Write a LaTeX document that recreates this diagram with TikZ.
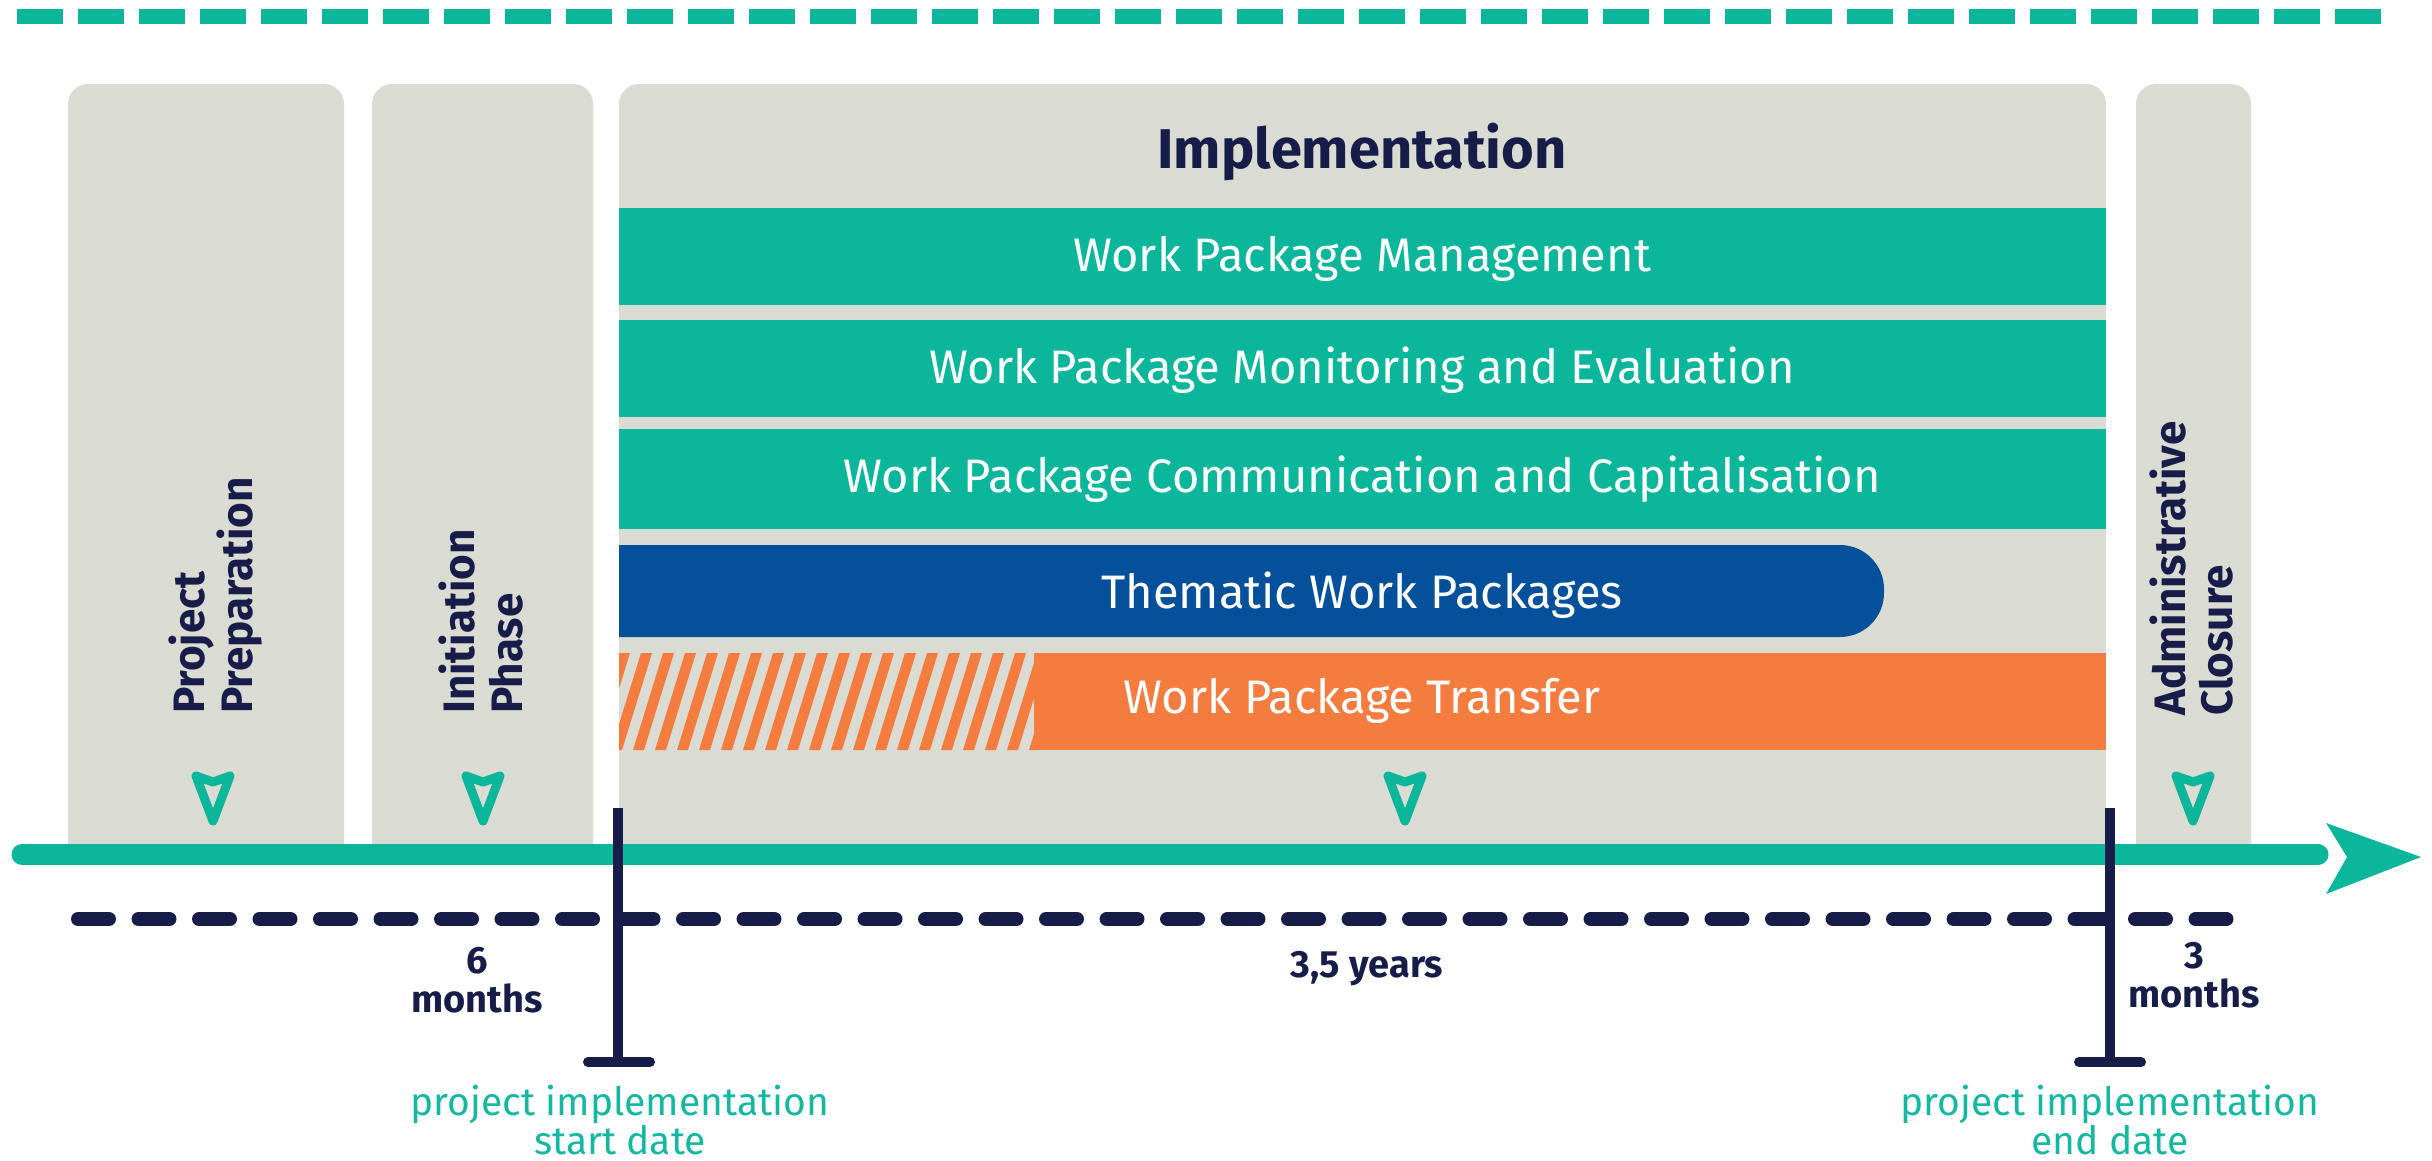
\documentclass[tikz,border=0pt]{standalone}
\usepackage{fontspec}
\setmainfont{Fira Sans}
\definecolor{cTeal}{HTML}{0BB69B}
\definecolor{cTealText}{HTML}{14B8A0}
\definecolor{cGray}{HTML}{DADBD3}
\definecolor{cNavy}{HTML}{171D48}
\definecolor{cBlue}{HTML}{05509A}
\definecolor{cOrange}{HTML}{F47C3F}
\tikzset{
  phasebox/.style={fill=cGray, rounded corners=20pt},
  bartext/.style={text=white, font=\fontsize{47}{58}\selectfont, inner sep=0pt, anchor=base},
  titletext/.style={text=cNavy, font=\fontsize{56}{64}\selectfont\bfseries, inner sep=0pt, anchor=base},
  vlabel/.style={text=cNavy, font=\fontsize{44}{50}\selectfont\bfseries, inner sep=0pt, anchor=base west, rotate=90},
  durlabel/.style={text=cNavy, font=\fontsize{38}{39}\selectfont\bfseries, inner sep=0pt, align=center, anchor=base},
  datelabel/.style={text=cTealText, font=\fontsize{39}{34}\selectfont, inner sep=0pt, align=center, anchor=base},
  marker/.style={draw=cNavy, line width=10pt},
  icon/.style={draw=cTeal, line width=9pt, line join=round}
}
\begin{document}
\begin{tikzpicture}[x=1pt,y=-1pt]
\useasboundingbox (0,0) rectangle (2432,1160);
% top dashed line
\draw[cTeal, line width=15pt, dash pattern=on 46pt off 15pt] (17,16) -- (2382,16);
% phase boxes
\path[phasebox] (68,850) |- (206,84) -| (344,850);
\path[phasebox] (372,850) |- (482,84) -| (593,850);
\path[phasebox] (619,850) |- (1362,84) -| (2106,850);
\path[phasebox] (2136,850) |- (2193,84) -| (2251,850);
% work package bars
\fill[cTeal] (619,208) rectangle (2106,305);
\fill[cTeal] (619,320) rectangle (2106,417);
\fill[cTeal] (619,429) rectangle (2106,529);
\fill[cBlue, rounded corners=44pt] (619,545) -- (1884,545) -- (1884,637) -- (619,637);
\fill[cBlue] (619,545) rectangle (660,637);
\fill[cOrange] (1034,653) rectangle (2106,750);
\begin{scope}
  \clip (619,653) rectangle (1034,750);
  \foreach \i in {0,...,21}
    \fill[cOrange] (589+22*\i,750) -- ++(11,0) -- ++(30,-97) -- ++(-11,0) -- cycle;
\end{scope}
% texts in implementation
\node[titletext] (impl) at (1362,168) {Implementation};
\node[bartext] (wpm) at (1362,271) {Work Package Management};
\node[bartext] (wpme) at (1362,383) {Work Package Monitoring and Evaluation};
\node[bartext] (wpcc) at (1362,492) {Work Package Communication and Capitalisation};
\node[bartext] (twp) at (1362,608) {Thematic Work Packages};
\node[bartext] (wpt) at (1362,713) {Work Package Transfer};
% vertical labels
\node[vlabel] (pp1) at (204,714) {Project};
\node[vlabel] (pp2) at (252,714) {Preparation};
\node[vlabel] (ip1) at (474,714) {Initiation};
\node[vlabel] (ip2) at (522,714) {Phase};
\node[vlabel] (ac1) at (2185,716) {Administrative};
\node[vlabel] (ac2) at (2232,716) {Closure};
% icons
\foreach \cx in {213,483,1405,2193}
  \draw[icon] (\cx-17,776) -- (\cx,782) -- (\cx+17,776) -- (\cx,821) -- cycle;
% dark dashed duration line
\draw[cNavy, line width=14pt, line cap=round, dash pattern=on 31pt off 29.5pt] (78,919) -- (2238,919);
% timeline
\draw[cTeal, line width=21pt, line cap=round] (22,854.5) -- (2318,854.5);
\fill[cTeal] (2326,823) -- (2421,857) -- (2326,894) -- (2347,857) -- cycle;
% markers
\coordinate (s1) at (618,808);
\coordinate (s2) at (618,1062);
\coordinate (s3) at (588,1062);
\coordinate (s4) at (650,1062);
\coordinate (e1) at (2110,808);
\coordinate (e2) at (2110,1062);
\coordinate (e3) at (2079,1062);
\coordinate (e4) at (2141,1062);
\draw[marker] (s1) -- (s2);
\draw[marker, line cap=round] (s3) -- (s4);
\draw[marker] (e1) -- (e2);
\draw[marker, line cap=round] (e3) -- (e4);
% duration labels
\node[durlabel] (d6) at (477,1012) {6\\months};
\node[durlabel] (d35) at (1367,977) {3,5 years};
\node[durlabel] (d3) at (2194,1007) {3\\months};
% date labels
\node[datelabel] (sd) at (620,1154) {project implementation\\start date};
\node[datelabel] (ed) at (2110,1154) {project implementation\\end date};
\end{tikzpicture}
\end{document}
